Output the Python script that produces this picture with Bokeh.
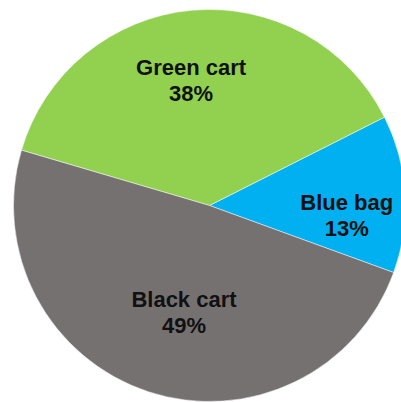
import math
from bokeh.plotting import figure
from bokeh.models import Range1d, ColumnDataSource
from bokeh.core.properties import value
from bokeh.embed import file_html
from bokeh.resources import INLINE

# ---- data ----
categories = ["Blue bag", "Green cart", "Black cart"]
shares = [13, 38, 49]
colors = ["#00B0F0", "#92D050", "#767171"]

# ---- layout / style ----
W, H = 401, 402
CX, CY, R = 209, 197, 196
START_DEG = -20.0
label_dist = [0.70, 0.685, 0.52]     # fraction of radius
label_angle_adj = [-4.2, 2.7, 3.7]   # degrees tweak from slice mid-angle

total = float(sum(shares))
starts, ends, lx, ly = [], [], [], []
a = math.radians(START_DEG)
for i, s in enumerate(shares):
    span = 2 * math.pi * s / total
    starts.append(a)
    ends.append(a + span)
    mid = a + span / 2 + math.radians(label_angle_adj[i])
    d = label_dist[i] * R
    lx.append(CX + d * math.cos(mid))
    ly.append(CY + d * math.sin(mid))
    a += span

src = ColumnDataSource(dict(
    start=starts, end=ends, color=colors,
    name=categories, pct=[f"{s}%" for s in shares],
    lx=lx, name_y=[y + 5 for y in ly], pct_y=[y - 21 for y in ly],
))

p = figure(width=W, height=H, output_backend="svg", toolbar_location=None,
           x_range=Range1d(0, W), y_range=Range1d(0, H),
           min_border=0, outline_line_color=None, background_fill_color="white")
p.axis.visible = False
p.grid.visible = False

p.wedge(x=CX, y=CY, radius=R, start_angle="start", end_angle="end",
        fill_color="color", line_color="white", line_width=0.5, source=src)

common = dict(text_font=value("Liberation Sans"), text_font_style="bold",
              text_font_size="22px", text_color="#111111",
              text_align="center", text_baseline="alphabetic", source=src)
p.text(x="lx", y="name_y", text="name", **common)
p.text(x="lx", y="pct_y", text="pct", **common)

open("out.html", "w").write(file_html(p, INLINE))
